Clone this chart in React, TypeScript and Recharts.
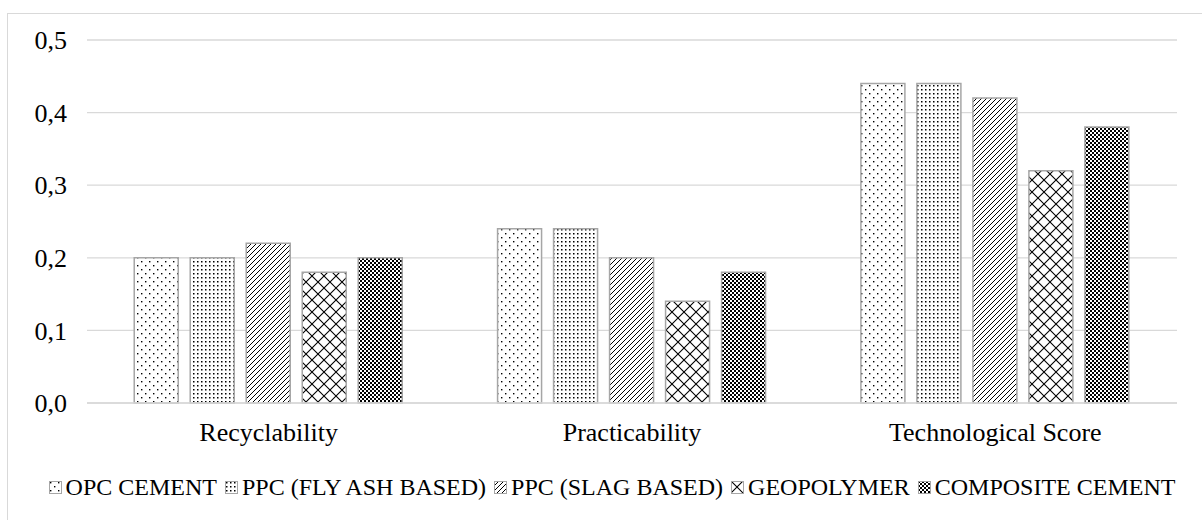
import React from "react";
import { BarChart, Bar, XAxis, YAxis, CartesianGrid } from "recharts";

const categories = ["Recyclability", "Practicability", "Technological Score"];
const seriesNames = ["OPC CEMENT", "PPC (FLY ASH BASED)", "PPC (SLAG BASED)", "GEOPOLYMER", "COMPOSITE CEMENT"];
const opc = [0.2, 0.24, 0.44];
const ppcFlyAsh = [0.2, 0.24, 0.44];
const ppcSlag = [0.22, 0.2, 0.42];
const geopolymer = [0.18, 0.14, 0.32];
const composite = [0.2, 0.18, 0.38];
const yTicks = [0, 0.1, 0.2, 0.3, 0.4, 0.5];

const seriesValues = [opc, ppcFlyAsh, ppcSlag, geopolymer, composite];
const patternIds = ["pDots5", "pDotsGrid", "pDiagUp", "pDiamond", "pChecker"];

const data = categories.map((name, i) => {
  const row: Record<string, string | number> = { name };
  seriesValues.forEach((vals, s) => {
    row["s" + s] = vals[i];
  });
  return row;
});

const FONT = '"Liberation Serif", "Times New Roman", serif';
const GRID = "#d9d9d9";
const OUTLINE = "#a6a6a6";

function Patterns() {
  return (
    <svg width={0} height={0} style={{ position: "absolute" }}>
      <defs>
        <pattern id="pDots5" width="8" height="8" patternUnits="userSpaceOnUse">
          <rect width="8" height="8" fill="#fff" />
          <rect x="1" y="1" width="1.4" height="1.4" fill="#000" />
          <rect x="5" y="5" width="1.4" height="1.4" fill="#000" />
        </pattern>
        <pattern id="pDotsGrid" width="4" height="4" patternUnits="userSpaceOnUse">
          <rect width="4" height="4" fill="#fff" />
          <rect x="1" y="1" width="1.5" height="1.5" fill="#000" />
        </pattern>
        <pattern id="pDiagUp" width="5" height="5" patternUnits="userSpaceOnUse">
          <rect width="5" height="5" fill="#fff" />
          <path d="M-1,6 L6,-1 M-1,1 L1,-1 M4,6 L6,4" stroke="#000" strokeWidth="1" />
        </pattern>
        <pattern id="pDiamond" width="12" height="12" patternUnits="userSpaceOnUse">
          <rect width="12" height="12" fill="#fff" />
          <path d="M0,0 L12,12 M0,12 L12,0" stroke="#000" strokeWidth="1.1" />
        </pattern>
        <pattern id="pChecker" width="4" height="4" patternUnits="userSpaceOnUse">
          <rect width="4" height="4" fill="#fff" />
          <rect x="0" y="0" width="2" height="2" fill="#000" />
          <rect x="2" y="2" width="2" height="2" fill="#000" />
        </pattern>
      </defs>
    </svg>
  );
}

function LegendRow() {
  return (
    <div
      style={{
        position: "absolute",
        left: 12,
        top: 474,
        width: 1200,
        display: "flex",
        justifyContent: "center",
        gap: 8,
        fontFamily: FONT,
        fontSize: 24,
        color: "#000",
        whiteSpace: "nowrap",
      }}
    >
      {seriesNames.map((n, i) => (
        <div key={n} style={{ display: "flex", alignItems: "center" }}>
          <svg width={13} height={13} style={{ marginRight: 4 }}>
            <rect x={0.5} y={0.5} width={12} height={12} fill={`url(#${patternIds[i]})`} stroke={OUTLINE} />
          </svg>
          <span>{n}</span>
        </div>
      ))}
    </div>
  );
}

export default function App() {
  return (
    <div
      style={{
        position: "absolute",
        left: 0,
        top: 0,
        width: 1202,
        height: 520,
        overflow: "hidden",
        background: "#fff",
        fontFamily: FONT,
      }}
    >
      <Patterns />
      <div
        style={{
          position: "absolute",
          left: 7,
          top: 13,
          width: 1260,
          height: 600,
          border: `1px solid ${GRID}`,
        }}
      />
      <div style={{ position: "absolute", left: 0, top: 0 }}>
        <BarChart
          width={1202}
          height={520}
          data={data}
          margin={{ top: 40, right: 25, bottom: 87, left: 0 }}
          barCategoryGap="13%"
          barGap={12}
          style={{ fontFamily: FONT }}
        >
          <CartesianGrid vertical={false} stroke={GRID} strokeWidth={1.3} />
          <XAxis
            dataKey="name"
            axisLine={{ stroke: GRID, strokeWidth: 1.3 }}
            tickLine={false}
            tickSize={0}
            tickMargin={20}
            tick={{ fontFamily: FONT, fontSize: 26, fill: "#000" }}
          />
          <YAxis
            width={87}
            domain={[0, 0.5]}
            ticks={yTicks}
            axisLine={false}
            tickLine={false}
            tickSize={0}
            tickMargin={20}
            tickFormatter={(v: number) => v.toFixed(1).replace(".", ",")}
            tick={{ fontFamily: FONT, fontSize: 26, fill: "#000" }}
          />
          {seriesNames.map((n, i) => (
            <Bar
              key={n}
              dataKey={"s" + i}
              name={n}
              fill={`url(#${patternIds[i]})`}
              stroke={OUTLINE}
              strokeWidth={1.5}
              isAnimationActive={false}
            />
          ))}
        </BarChart>
      </div>
      <LegendRow />
    </div>
  );
}
